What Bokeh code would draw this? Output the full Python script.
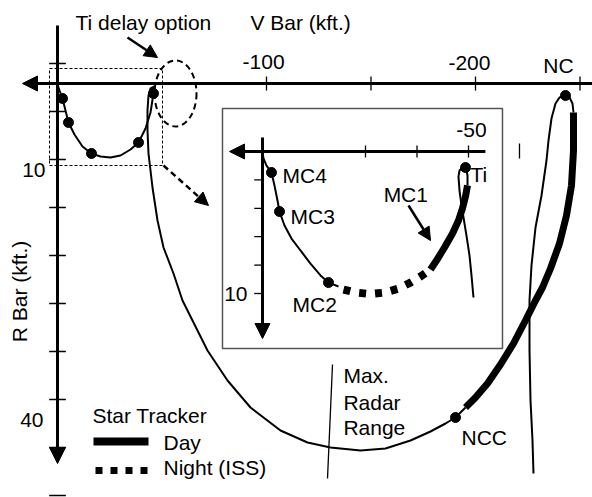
from bokeh.plotting import figure
from bokeh.models import Range1d, Arrow, NormalHead
from bokeh.core.properties import value
from bokeh.embed import file_html
from bokeh.resources import INLINE

FONT = value("Liberation Sans")
FS = "21px"

# ---------------- main chart data (V Bar kft, R Bar kft) ----------------
V_TICKS = [-100, -150, -200, -250]
V_TICK_LABELS = ["-100", "-200"]
V_TICK_LABEL_POS = [-98.6, -197.1]
R_TICKS = [-2.5, 3.5, 9.5, 15.5, 21.5, 27.5, 33.5, 39.5, 45.5, 51.5]
R_TICK_LABELS = ["10", "40"]
R_TICK_LABEL_POS = [10.75, 42.1]

# final approach loop near the station (MC4..Ti, main scale)
LOOP_V = [0, -0.96, -2.39, -3.83, -5.26, -8.13, -11.96, -16.27, -20.57, -25.36,
          -30.14, -34.93, -38.76, -42.11, -44.50, -45.93]
LOOP_R = [0.125, 0.875, 1.875, 3.375, 4.875, 6.375, 7.875, 8.75, 9.125, 9.25,
          9.0, 8.25, 7.375, 5.625, 3.625, 1.25]

# NCC -> Ti trajectory (thin)
BIG_V = [-45.93, -46.41, -44.50, -43.54, -43.06, -43.06, -43.54, -44.50, -45.45,
         -47.85, -50.72, -55.50, -59.81, -64.59, -71.77, -81.34, -92.34, -106.70,
         -119.62, -130.62, -144.98, -156.94, -168.90, -178.47, -185.65, -190.43, -195.22]
BIG_R = [1.25, 0.375, 0.625, 1.5, 3.375, 5.875, 8.75, 10.875, 13.0,
         17.125, 20.5, 23.75, 27.125, 29.625, 33.375, 37.125, 40.5, 43.375,
         44.875, 45.5, 45.875, 45.625, 44.625, 43.5, 42.5, 41.75, 40.5]

# star tracker day pass NC -> NCC
DAY_V = [-246.89, -246.89, -245.93, -243.54, -240.19, -235.89, -232.06, -228.71,
         -223.92, -218.18, -211.96, -205.74, -200.0, -195.22]
DAY_R = [3.625, 8.375, 12.75, 16.5, 20.0, 23.125, 25.5, 27.125,
         29.625, 32.5, 35.125, 37.5, 39.25, 40.5]

# arrival leg up to NC
NC_V = [-246.89, -246.41, -244.98, -243.06, -240.19, -238.28, -236.36, -234.93,
        -233.97, -231.58, -228.71, -226.79, -225.84, -225.84, -226.32, -227.27, -227.75]
NC_R = [3.625, 2.5, 1.75, 1.5, 1.75, 2.5, 4.375, 7.125,
        9.625, 14.0, 18.0, 22.75, 27.125, 33.375, 39.625, 44.625, 48.75]

MAIN_DOT_V = [-2.39, -5.26, -16.27, -38.76, -45.93, -243.06, -190.43]
MAIN_DOT_R = [1.875, 4.875, 8.75, 7.375, 1.25, 1.5, 41.75]

RADAR_V = [-131.58, -129.19]
RADAR_R = [35.125, 49.375]
STRAY_V = [-221.05, -221.05]
STRAY_R = [7.5, 9.375]

ZOOM_BOX = dict(left=3.83, right=-50.24, top=-1.875, bottom=10.25)
TI_DELAY = dict(v=-56.46, r=1.25, w=20.1, h=8.25)

# ---------------- inset data (inset V kft, inset R kft) ----------------
IN_V_TICKS = [-25, -37.5, -50]
IN_R_TICKS = [2, 4, 6, 8, 10]
IN_THIN_V = [0, -0.24, -0.97, -2.18, -2.91, -3.64, -4.13, -5.34, -7.04, -9.22,
             -11.65, -14.08, -16.02, -18.45]
IN_THIN_R = [0.07, 0.49, 0.99, 1.48, 2.39, 3.45, 4.23, 5.21, 6.13, 6.97,
             7.89, 8.73, 9.23, 9.51]
IN_NIGHT_V = [-19.66, -22.57, -26.21, -29.85, -33.01, -35.92, -38.35, -40.78]
IN_NIGHT_R = [9.72, 9.93, 10.04, 9.93, 9.65, 9.23, 8.80, 8.31]
IN_DAY_V = [-40.78, -42.23, -44.17, -46.12, -47.57, -48.54, -49.27, -49.76]
IN_DAY_R = [8.31, 7.68, 6.76, 5.77, 4.86, 4.01, 3.17, 2.39]
IN_TI_V = [-49.76, -49.76, -49.51, -49.27, -48.54, -47.82, -47.57, -47.82, -48.30,
           -48.79, -49.51, -50.24, -50.73, -51.21]
IN_TI_R = [2.39, 1.69, 1.34, 1.13, 1.13, 1.34, 1.76, 2.75, 3.80,
           4.65, 5.92, 7.32, 8.73, 10.28]
IN_DOT_V = [-2.18, -4.13, -16.02, -49.27]
IN_DOT_R = [1.48, 4.23, 9.23, 1.13]
IN_BOX = dict(left=9.71, right=-58.25, top=-3.03, bottom=13.87)

# ---------------- figure ----------------
p = figure(width=592, height=497, output_backend="svg", toolbar_location=None,
           x_range=Range1d(27.273, -255.981), y_range=Range1d(51.75, -10.375),
           x_axis_location=None, y_axis_location=None, min_border=0)
p.extra_x_ranges = {"in": Range1d(63.592, -80.097)}
p.extra_y_ranges = {"in": Range1d(24.366, -10.634)}
p.grid.visible = False
p.outline_line_color = None
p.background_fill_color = "white"

K = "black"
IN = dict(x_range_name="in", y_range_name="in")

# inset frame
p.quad(left=[IN_BOX["left"]], right=[IN_BOX["right"]], top=[IN_BOX["top"]],
       bottom=[IN_BOX["bottom"]], fill_color=None, line_color="#555555",
       line_width=1.5, **IN)

# zoom box and Ti delay ellipse
p.quad(left=[ZOOM_BOX["left"]], right=[ZOOM_BOX["right"]], top=[ZOOM_BOX["top"]],
       bottom=[ZOOM_BOX["bottom"]], fill_color=None, line_color=K,
       line_width=1, line_dash="3 2")
p.ellipse(x=[TI_DELAY["v"]], y=[TI_DELAY["r"]], width=[TI_DELAY["w"]],
          height=[TI_DELAY["h"]], fill_color=None, line_color=K, line_width=2,
          line_dash="6 4")

# main axes
p.add_layout(Arrow(end=NormalHead(size=15, fill_color=K, line_color=K),
                   x_start=-256, y_start=0, x_end=16.75, y_end=0,
                   line_width=3, line_color=K))
p.add_layout(Arrow(end=NormalHead(size=16, fill_color=K, line_color=K),
                   x_start=0, y_start=-7.25, x_end=0, y_end=47.5,
                   line_width=3, line_color=K))
p.segment(x0=V_TICKS, y0=[-0.875] * 4, x1=V_TICKS, y1=[0.875] * 4,
          line_color=K, line_width=1.3)
p.segment(x0=[4] * len(R_TICKS), y0=R_TICKS, x1=[-4] * len(R_TICKS), y1=R_TICKS,
          line_color=K, line_width=1.3)

# inset axes
p.add_layout(Arrow(end=NormalHead(size=15, fill_color=K, line_color=K),
                   x_start=-54.1, y_start=0, x_end=8.0, y_end=0,
                   line_width=3, line_color=K, **IN))
p.add_layout(Arrow(end=NormalHead(size=15, fill_color=K, line_color=K),
                   x_start=0, y_start=-0.99, x_end=0, y_end=13.17,
                   line_width=3, line_color=K, **IN))
p.segment(x0=IN_V_TICKS, y0=[-0.42] * 3, x1=IN_V_TICKS, y1=[0.42] * 3,
          line_color=K, line_width=1.3, **IN)
p.segment(x0=[2.0] * 5, y0=IN_R_TICKS, x1=[-0.25] * 5, y1=IN_R_TICKS,
          line_color=K, line_width=1.3, **IN)

# trajectories (main)
p.line(LOOP_V, LOOP_R, line_color=K, line_width=2)
p.line(BIG_V, BIG_R, line_color=K, line_width=2)
p.line(NC_V, NC_R, line_color=K, line_width=2)
p.line(DAY_V, DAY_R, line_color=K, line_width=7, line_cap="butt")
p.scatter(MAIN_DOT_V, MAIN_DOT_R, marker="circle", size=10, color=K)
p.line(RADAR_V, RADAR_R, line_color=K, line_width=1.3)
p.line(STRAY_V, STRAY_R, line_color=K, line_width=1.3)

# trajectories (inset)
p.line(IN_THIN_V, IN_THIN_R, line_color=K, line_width=2, **IN)
p.line(IN_NIGHT_V, IN_NIGHT_R, line_color=K, line_width=8, line_dash="7 9",
       line_cap="butt", **IN)
p.line(IN_DAY_V, IN_DAY_R, line_color=K, line_width=7, line_cap="butt", **IN)
p.line(IN_TI_V, IN_TI_R, line_color=K, line_width=2, **IN)
p.scatter(IN_DOT_V, IN_DOT_R, marker="circle", size=10, color=K, **IN)

# pointer arrows
p.add_layout(Arrow(end=NormalHead(size=13, fill_color=K, line_color=K),
                   x_start=-33.49, y_start=-5.75, x_end=-47.85, y_end=-3.25,
                   line_width=2.5, line_color=K))
p.add_layout(Arrow(end=NormalHead(size=13, fill_color=K, line_color=K),
                   x_start=-50.72, y_start=10.25, x_end=-72.25, y_end=15.25,
                   line_width=2.5, line_color=K, line_dash="6 4"))
p.add_layout(Arrow(end=NormalHead(size=13, fill_color=K, line_color=K),
                   x_start=-35.44, y_start=3.80, x_end=-40.78, y_end=6.27,
                   line_width=2.5, line_color=K, **IN))

# legend
p.line([-17.22, -43.54], [44.75, 44.75], line_color=K, line_width=8, line_cap="butt")
p.line([-18.18, -43.54], [48.375, 48.375], line_color=K, line_width=7,
       line_dash="7 8", line_cap="butt")

# texts
TXT = dict(text_font=FONT, text_font_size=FS, text_color=K,
           text_baseline="alphabetic")
p.text(x=[-8.6, -92.3, -16.7, -50.7, -50.7, -136.8, -136.8, -136.8, -193.3],
       y=[-7.625, -7.625, 41.5, 44.875, 48.0, 36.5, 39.875, 43.0, 44.25],
       text=["Ti delay option", "V Bar (kft.)", "Star Tracker", "Day",
             "Night (ISS)", "Max.", "Radar", "Range", "NCC"],
       text_align="left", **TXT)
p.text(x=V_TICK_LABEL_POS + [-239.7], y=[-2.75, -2.625, -2.25],
       text=V_TICK_LABELS + ["NC"], text_align="center", **TXT)
p.text(x=[5.74, 6.7], y=R_TICK_LABEL_POS, text=R_TICK_LABELS,
       text_align="right", **TXT)
p.text(x=[18.2], y=[26.0], text=["R Bar (kft.)"], angle=1.5708,
       text_align="center", text_baseline="middle", text_font=FONT,
       text_font_size=FS, text_color=K)
p.text(x=[-50.5, -4.85, -6.8, -29.4, -7.3], y=[1.62, 1.69, 4.58, 3.04, 10.74],
       text=["Ti", "MC4", "MC3", "MC1", "MC2"], text_align="left", **TXT, **IN)
p.text(x=[-50.7], y=[-1.48], text=["-50"], text_align="center", **TXT, **IN)
p.text(x=[3.64], y=[10.04], text=["10"], text_align="right", **TXT, **IN)

open("out.html", "w").write(file_html(p, INLINE))
